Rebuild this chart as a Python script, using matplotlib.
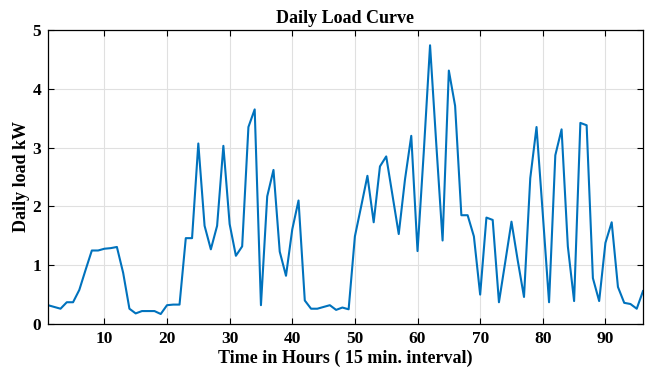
import matplotlib.pyplot as plt
import numpy as np

# load data, one reading every 15 min (96 points)
interval = np.arange(1, 97)
load_kw = [0.32, 0.29, 0.26, 0.37, 0.37, 0.58, 0.92, 1.25, 1.25, 1.28,
           1.29, 1.31, 0.87, 0.26, 0.18, 0.22, 0.22, 0.22, 0.17, 0.32,
           0.33, 0.33, 1.46, 1.46, 3.07, 1.67, 1.27, 1.67, 3.03, 1.70,
           1.16, 1.32, 3.35, 3.65, 0.32, 2.17, 2.62, 1.23, 0.82, 1.61,
           2.10, 0.40, 0.26, 0.26, 0.29, 0.32, 0.24, 0.28, 0.25, 1.49,
           2.00, 2.52, 1.73, 2.68, 2.85, 2.19, 1.53, 2.46, 3.20, 1.24,
           2.93, 4.74, 3.05, 1.42, 4.31, 3.71, 1.85, 1.85, 1.49, 0.50,
           1.81, 1.77, 0.37, 1.05, 1.74, 1.08, 0.46, 2.48, 3.35, 1.87,
           0.37, 2.87, 3.31, 1.32, 0.39, 3.42, 3.38, 0.78, 0.39, 1.38,
           1.73, 0.63, 0.36, 0.34, 0.26, 0.56]
xticks = [10, 20, 30, 40, 50, 60, 70, 80, 90]
yticks = [0, 1, 2, 3, 4, 5]

plt.rcParams['font.family'] = ['Liberation Serif', 'DejaVu Serif']
plt.rcParams['font.weight'] = 'bold'

fig = plt.figure(figsize=(6.45, 3.72), dpi=100)
ax = fig.add_axes([48 / 645, 1 - 324 / 372, 595 / 645, 294 / 372])

ax.plot(interval, load_kw, color=(0, 0.447, 0.741), linewidth=1.5)

ax.set_xlim(1, 96)
ax.set_ylim(0, 5)
ax.set_xticks(xticks)
ax.set_yticks(yticks)
ax.grid(True, color='#e0e0e0', linewidth=0.8)
ax.set_axisbelow(True)
ax.tick_params(direction='in', top=True, right=True, length=4, width=0.8,
               labelsize=12.5, pad=5)
for lbl in ax.get_xticklabels() + ax.get_yticklabels():
    lbl.set_fontweight('bold')
for sp in ax.spines.values():
    sp.set_linewidth(0.9)

ax.set_title('Daily Load Curve', fontsize=13, fontweight='bold', pad=5)
ax.set_xlabel('Time in Hours ( 15 min. interval)', fontsize=13, fontweight='bold', labelpad=2)
ax.set_ylabel('Daily load kW', fontsize=13, fontweight='bold', labelpad=2)

fig.savefig('out.png', dpi=100)
